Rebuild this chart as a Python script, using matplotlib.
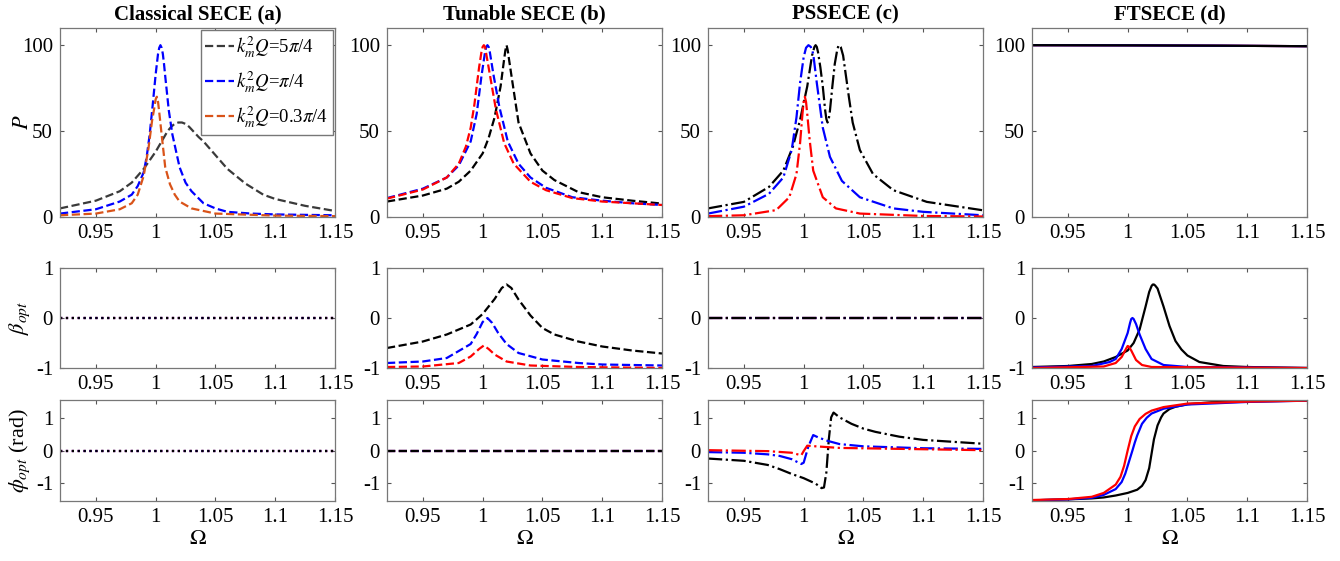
import matplotlib
matplotlib.use("Agg")
import matplotlib.pyplot as plt

plt.rcParams['font.family'] = ['Liberation Serif', 'DejaVu Serif']
plt.rcParams['mathtext.fontset'] = 'stix'

# ---------------- data ----------------
titles = ["Classical SECE (a)", "Tunable SECE (b)", "PSSECE (c)", "FTSECE (d)"]
legend_labels = [r"$k_m^2Q$=5$\pi$/4", r"$k_m^2Q$=$\pi$/4", r"$k_m^2Q$=0.3$\pi$/4"]
xticks = [0.95, 1.0, 1.05, 1.1, 1.15]
xticklabels = ["0.95", "1", "1.05", "1.1", "1.15"]

# (a) classical SECE, harvested power
om_a_k = [0.92, 0.95, 0.97, 0.98, 0.99, 1.0, 1.005, 1.01, 1.013, 1.016, 1.019, 1.022, 1.025, 1.028, 1.032, 1.036, 1.04, 1.045, 1.05, 1.06, 1.075, 1.09, 1.1, 1.125, 1.15]
p_a_k = [5, 9.5, 15, 20, 28, 38, 44, 50, 52.5, 54.3, 55, 55, 54.2, 52.5, 49.5, 46.5, 44, 40, 36, 28, 19.5, 13, 10.5, 6.5, 3.5]
om_a_b = [0.92, 0.95, 0.97, 0.98, 0.985, 0.99, 0.9925, 0.995, 0.9975, 1.0, 1.001, 1.002, 1.003, 1.004, 1.005, 1.006, 1.007, 1.008, 1.011, 1.014, 1.02, 1.025, 1.03, 1.04, 1.05, 1.06, 1.08, 1.1, 1.15]
p_a_b = [2, 4.5, 9, 13, 18, 26, 35, 48, 65, 83, 89, 95, 98.5, 100, 98.5, 95, 89, 82, 62, 48, 29, 20, 15, 8, 5, 3, 2, 1.5, 1]
om_a_r = [0.92, 0.95, 0.97, 0.98, 0.985, 0.99, 0.994, 0.997, 0.999, 1.0, 1.001, 1.002, 1.003, 1.005, 1.008, 1.012, 1.016, 1.02, 1.03, 1.05, 1.1, 1.15]
p_a_r = [1, 2, 4.5, 8, 13, 24, 40, 56, 64, 68.5, 70, 67, 61, 48, 29, 19, 13, 9, 5, 2, 0.8, 0.5]

# (b) tunable SECE
om_b_k = [0.92, 0.95, 0.97, 0.98, 0.99, 1.0, 1.005, 1.01, 1.015, 1.018, 1.019, 1.02, 1.021, 1.022, 1.025, 1.03, 1.04, 1.05, 1.06, 1.08, 1.1, 1.125, 1.15]
p_b_k = [9, 12.5, 16.5, 20.5, 27, 37, 46, 58, 76, 92, 97, 100, 97, 92, 78, 55, 37, 27, 21.5, 14.5, 11.5, 9.5, 7.8]
om_b_b = [0.92, 0.95, 0.97, 0.98, 0.99, 0.995, 0.999, 1.002, 1.003, 1.004, 1.005, 1.006, 1.009, 1.014, 1.021, 1.03, 1.04, 1.053, 1.075, 1.1, 1.125, 1.15]
p_b_b = [11, 16.5, 23, 30, 44, 60, 82, 96, 99, 100, 99, 96, 83, 64, 44, 31, 23, 17, 11.5, 9.5, 8, 7]
om_b_r = [0.92, 0.95, 0.97, 0.98, 0.986, 0.99, 0.993, 0.997, 0.999, 1.0, 1.001, 1.002, 1.003, 1.006, 1.011, 1.018, 1.026, 1.04, 1.053, 1.075, 1.1, 1.125, 1.15]
p_b_r = [10.7, 16, 23, 31, 41, 52, 65, 87, 96, 99, 100, 99, 95, 83, 63, 43, 31, 20.5, 15.6, 11, 9, 8, 7]

# (c) PSSECE
om_c_k = [0.92, 0.95, 0.971, 0.983, 0.991, 0.997, 1.003, 1.007, 1.009, 1.01, 1.011, 1.012, 1.014, 1.016, 1.018, 1.019, 1.02, 1.021, 1.022, 1.024, 1.026, 1.028, 1.029, 1.03, 1.031, 1.033, 1.035, 1.038, 1.041, 1.047, 1.058, 1.075, 1.103, 1.15]
p_c_k = [5, 8.8, 17.5, 27, 41, 56.5, 76, 94, 99, 100, 99, 96, 87, 76, 62, 57, 55, 57, 62, 76, 89, 97, 99.5, 100, 99, 94, 84, 69, 55, 39, 25, 15.6, 8.8, 3.9]
om_c_b = [0.92, 0.95, 0.971, 0.983, 0.99, 0.994, 0.997, 1.0, 1.002, 1.004, 1.006, 1.008, 1.011, 1.016, 1.022, 1.032, 1.047, 1.075, 1.1, 1.15]
p_c_b = [2, 6, 13.5, 23, 39, 58, 78, 93, 98.5, 100, 99, 95, 78, 52, 35, 21, 11.5, 5, 3, 1]
om_c_r = [0.92, 0.95, 0.977, 0.988, 0.994, 0.997, 0.999, 1.0, 1.001, 1.002, 1.003, 1.005, 1.008, 1.016, 1.027, 1.047, 1.1, 1.15]
p_c_r = [0.5, 1, 4, 11.5, 25, 43, 60, 67, 70, 67, 60, 45, 27, 11.5, 5, 2, 0.6, 0.3]

# (d) FTSECE
om_d = [0.92, 1.0, 1.08, 1.15]
p_d_k = [100, 99.9, 99.7, 99.4]
p_d_b = [100, 99.9, 99.7, 99.4]
p_d_r = [100, 99.9, 99.7, 99.4]

# beta_opt
om_flat = [0.92, 1.15]
zero_flat = [0, 0]
om_bb_k = [0.92, 0.95, 0.97, 0.99, 1.0, 1.01, 1.016, 1.02, 1.024, 1.03, 1.04, 1.05, 1.06, 1.08, 1.1, 1.125, 1.15]
beta_b_k = [-0.6, -0.47, -0.33, -0.13, 0.08, 0.38, 0.6, 0.67, 0.6, 0.37, 0.05, -0.2, -0.33, -0.47, -0.57, -0.65, -0.71]
om_bb_b = [0.92, 0.95, 0.97, 0.99, 0.995, 1.0, 1.004, 1.008, 1.013, 1.02, 1.03, 1.05, 1.08, 1.1, 1.15]
beta_b_b = [-0.9, -0.87, -0.8, -0.52, -0.32, -0.08, 0.0, -0.1, -0.3, -0.52, -0.7, -0.83, -0.9, -0.93, -0.95]
om_bb_r = [0.92, 0.95, 0.98, 0.99, 0.997, 1.001, 1.005, 1.01, 1.02, 1.04, 1.08, 1.15]
beta_b_r = [-0.98, -0.97, -0.9, -0.77, -0.62, -0.55, -0.62, -0.73, -0.87, -0.95, -0.98, -1.0]

om_bd_k = [0.92, 0.95, 0.97, 0.98, 0.99, 1.0, 1.005, 1.01, 1.015, 1.018, 1.02, 1.021, 1.022, 1.023, 1.025, 1.03, 1.035, 1.04, 1.045, 1.05, 1.06, 1.08, 1.1, 1.15]
beta_d_k = [-0.98, -0.96, -0.92, -0.87, -0.78, -0.65, -0.5, -0.23, 0.23, 0.52, 0.64, 0.67, 0.67, 0.65, 0.59, 0.23, -0.16, -0.46, -0.63, -0.75, -0.88, -0.96, -0.98, -1.0]
om_bd_b = [0.92, 0.97, 0.985, 0.99, 0.995, 1.0, 1.002, 1.003, 1.004, 1.005, 1.007, 1.01, 1.015, 1.02, 1.03, 1.05, 1.15]
beta_d_b = [-0.99, -0.96, -0.88, -0.82, -0.62, -0.3, -0.1, -0.02, 0.0, -0.02, -0.12, -0.33, -0.62, -0.82, -0.94, -0.98, -1.0]
om_bd_r = [0.92, 0.98, 0.99, 0.995, 0.999, 1.0, 1.001, 1.003, 1.007, 1.012, 1.02, 1.15]
beta_d_r = [-1.0, -0.97, -0.9, -0.78, -0.6, -0.56, -0.57, -0.65, -0.84, -0.94, -0.98, -1.0]

# phi_opt
om_pc_k = [0.92, 0.95, 0.97, 0.98, 0.99, 1.0, 1.01, 1.015, 1.017, 1.019, 1.021, 1.023, 1.025, 1.03, 1.04, 1.05, 1.06, 1.08, 1.1, 1.125, 1.15]
phi_c_k = [-0.25, -0.32, -0.45, -0.58, -0.73, -0.86, -1.03, -1.17, -1.15, -0.68, 0.33, 1.03, 1.18, 1.03, 0.83, 0.68, 0.58, 0.43, 0.33, 0.27, 0.21]
om_pc_b = [0.92, 0.95, 0.97, 0.98, 0.99, 0.998, 1.0, 1.004, 1.008, 1.012, 1.02, 1.03, 1.05, 1.1, 1.15]
phi_c_b = [-0.05, -0.07, -0.12, -0.17, -0.27, -0.42, -0.38, 0.13, 0.48, 0.41, 0.3, 0.2, 0.13, 0.07, 0.05]
om_pc_r = [0.92, 0.97, 0.99, 0.998, 1.0, 1.003, 1.01, 1.03, 1.15]
phi_c_r = [0.01, -0.02, -0.07, -0.15, -0.02, 0.15, 0.13, 0.08, 0.01]

om_pd_k = [0.92, 0.95, 0.97, 0.98, 0.99, 1.0, 1.008, 1.012, 1.015, 1.018, 1.02, 1.022, 1.025, 1.028, 1.03, 1.035, 1.04, 1.05, 1.07, 1.1, 1.15]
phi_d_k = [-1.55, -1.52, -1.49, -1.46, -1.4, -1.32, -1.22, -1.1, -0.92, -0.55, -0.1, 0.35, 0.78, 1.03, 1.15, 1.29, 1.36, 1.44, 1.5, 1.53, 1.55]
om_pd_b = [0.92, 0.95, 0.97, 0.98, 0.99, 0.995, 0.998, 1.0, 1.002, 1.004, 1.006, 1.008, 1.012, 1.016, 1.02, 1.03, 1.05, 1.1, 1.15]
phi_d_b = [-1.55, -1.52, -1.47, -1.38, -1.2, -0.98, -0.72, -0.48, -0.24, 0.0, 0.25, 0.47, 0.83, 1.02, 1.15, 1.3, 1.43, 1.51, 1.55]
om_pd_r = [0.92, 0.95, 0.97, 0.98, 0.99, 0.994, 0.997, 1.0, 1.003, 1.006, 1.01, 1.015, 1.02, 1.03, 1.05, 1.1, 1.15]
phi_d_r = [-1.54, -1.51, -1.44, -1.32, -1.06, -0.82, -0.48, 0.0, 0.45, 0.75, 0.98, 1.14, 1.24, 1.35, 1.46, 1.52, 1.55]

# ---------------- figure ----------------
fig = plt.figure(figsize=(13.4, 5.61), dpi=100)
lefts = [60, 387, 708, 1032]
width = 275
rows = [(28, 217), (268, 368), (400, 501)]
W, H = 1340, 561

axes = [[None] * 4 for _ in range(3)]
for r, (top, bot) in enumerate(rows):
    for c, lft in enumerate(lefts):
        ax = fig.add_axes([lft / W, 1 - bot / H, width / W, (bot - top) / H])
        ax.set_xlim(0.92, 1.15)
        ax.set_xticks(xticks)
        ax.set_xticklabels(xticklabels)
        ax.tick_params(direction='in', top=True, right=True, labelsize=15,
                       length=3, color='#555555', pad=5)
        for s in ax.spines.values():
            s.set_color('#777777')
            s.set_linewidth(0.9)
        axes[r][c] = ax

lw = 1.6
grey = '#3a3a3a'
orange = '#D95319'

# row 1: power
ax = axes[0][0]
ax.plot(om_a_k, p_a_k, '--', color=grey, lw=lw, label=legend_labels[0])
ax.plot(om_a_b, p_a_b, '--', color='b', lw=lw, label=legend_labels[1])
ax.plot(om_a_r, p_a_r, '--', color=orange, lw=lw, label=legend_labels[2])
leg = ax.legend(loc='upper right', fontsize=13.5, handlelength=1.5, borderaxespad=0.1,
                fancybox=False, framealpha=1, edgecolor='#777777', labelspacing=0.5,
                handletextpad=0.15, borderpad=0.25)

ax = axes[0][1]
ax.plot(om_b_k, p_b_k, '--', color='k', lw=lw)
ax.plot(om_b_b, p_b_b, '--', color='b', lw=lw)
ax.plot(om_b_r, p_b_r, '--', color='r', lw=lw)

ax = axes[0][2]
ax.plot(om_c_k, p_c_k, '-.', color='k', lw=lw)
ax.plot(om_c_b, p_c_b, '-.', color='b', lw=lw)
ax.plot(om_c_r, p_c_r, '-.', color='r', lw=lw)

ax = axes[0][3]
ax.plot(om_d, p_d_r, '-', color='r', lw=lw)
ax.plot(om_d, p_d_b, '-', color='b', lw=lw)
ax.plot(om_d, p_d_k, '-', color='k', lw=lw)

for ax in axes[0]:
    ax.set_ylim(0, 110)
    ax.set_yticks([0, 50, 100])

# row 2: beta
ax = axes[1][0]
for col in ['r', 'b', 'k']:
    ax.plot(om_flat, zero_flat, ':', color=col, lw=lw)
ax = axes[1][1]
ax.plot(om_bb_k, beta_b_k, '--', color='k', lw=lw)
ax.plot(om_bb_b, beta_b_b, '--', color='b', lw=lw)
ax.plot(om_bb_r, beta_b_r, '--', color='r', lw=lw)
ax = axes[1][2]
for col in ['r', 'b', 'k']:
    ax.plot(om_flat, zero_flat, '-.', color=col, lw=lw)
ax = axes[1][3]
ax.plot(om_bd_k, beta_d_k, '-', color='k', lw=lw)
ax.plot(om_bd_b, beta_d_b, '-', color='b', lw=lw)
ax.plot(om_bd_r, beta_d_r, '-', color='r', lw=lw)
for ax in axes[1]:
    ax.set_ylim(-1, 1)
    ax.set_yticks([-1, 0, 1])
    ax.set_yticklabels(['-1', '0', '1'])

# row 3: phi
ax = axes[2][0]
for col in ['r', 'b', 'k']:
    ax.plot(om_flat, zero_flat, ':', color=col, lw=lw)
ax = axes[2][1]
for col in ['r', 'b', 'k']:
    ax.plot(om_flat, zero_flat, '--', color=col, lw=lw)
ax = axes[2][2]
ax.plot(om_pc_k, phi_c_k, '-.', color='k', lw=lw)
ax.plot(om_pc_b, phi_c_b, '-.', color='b', lw=lw)
ax.plot(om_pc_r, phi_c_r, '-.', color='r', lw=lw)
ax = axes[2][3]
ax.plot(om_pd_k, phi_d_k, '-', color='k', lw=lw)
ax.plot(om_pd_b, phi_d_b, '-', color='b', lw=lw)
ax.plot(om_pd_r, phi_d_r, '-', color='r', lw=lw)
for ax in axes[2]:
    ax.set_ylim(-1.5708, 1.5708)
    ax.set_yticks([-1, 0, 1])
    ax.set_yticklabels(['-1', '0', '1'])
    ax.set_xlabel(r'$\Omega$', fontsize=16, labelpad=2)

for c, t in enumerate(titles):
    axes[0][c].set_title(t, fontsize=15, fontweight='bold', pad=6)

axes[0][0].set_ylabel(r'$P$', fontsize=16)
axes[1][0].set_ylabel(r'$\beta_{opt}$', fontsize=16)
axes[2][0].set_ylabel(r'$\phi_{opt}$ (rad)', fontsize=16)
for r in range(3):
    axes[r][0].yaxis.set_label_coords(-0.1, 0.5)

fig.savefig("out.png", dpi=100)
